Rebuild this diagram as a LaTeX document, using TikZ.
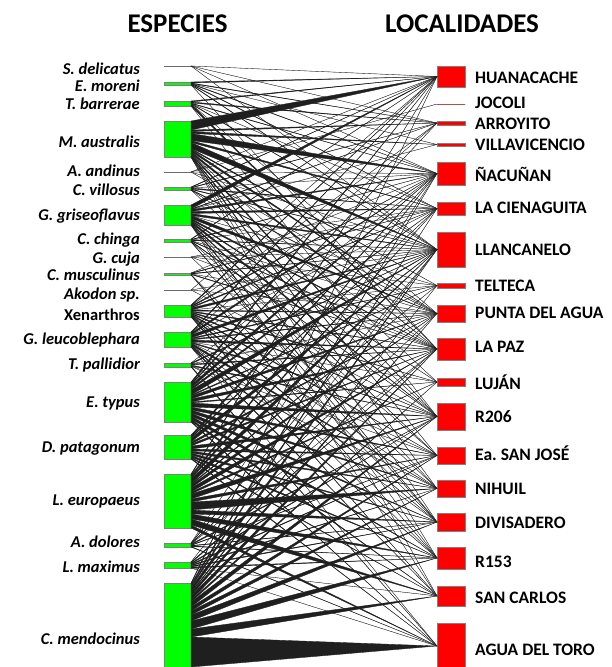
\documentclass[tikz,border=0pt]{standalone}
\usepackage{fontspec}
\setmainfont{Carlito}
\usetikzlibrary{positioning,calc}

\tikzset{
  spbox/.style={draw=gray,fill=green,minimum width=27pt,inner sep=0pt,outer sep=0pt,anchor=north},
  locbox/.style={draw=gray,fill=red,minimum width=28pt,inner sep=0pt,outer sep=0pt,anchor=north},
  nilbox/.style={draw=black!85,line width=1pt},
  splabel/.style={font=\bfseries\itshape\fontsize{16.5}{18}\selectfont,inner sep=0pt,text height=10.4pt,text depth=0pt,anchor=east},
  loclabel/.style={font=\bfseries\fontsize{17.5}{19}\selectfont,inner sep=0pt,text height=11pt,text depth=0pt,anchor=west},
  headline/.style={font=\bfseries\fontsize{27}{30}\selectfont,inner sep=0pt,text height=17pt,text depth=0pt},
  weblink/.style={fill=black!88,draw=black!88,line width=0.35pt,line join=round}
}

% links of one species: #1 species node, #2 list of locality/width
\newcommand{\weblinks}[2]{%
  \foreach \l/\w [evaluate=\w as \b using \a+\w, remember=\b as \a (initially 0)] in {#2}
    \filldraw[weblink] ($(#1.north east)+(0,\a)$) -- ($(#1.north east)+(0,\b)$) -- (\l.west) -- cycle;
}

\begin{document}
\begin{tikzpicture}[x=1pt,y=-1pt]
\useasboundingbox (0,0) rectangle (611,667);

\node[headline,name=esp] at (177.5,24) {ESPECIES};
\node[headline,name=loc] at (462,24) {LOCALIDADES};

% species
\node[spbox,nilbox,minimum height=0pt,name=sde] at (177.5,66) {};
\node[spbox,minimum height=3pt,name=emo] at (177.5,82) {};
\node[spbox,minimum height=5pt,name=tba] at (177.5,101) {};
\node[spbox,minimum height=36pt,name=mau] at (177.5,121) {};
\node[spbox,nilbox,minimum height=0pt,name=aan] at (177.5,172) {};
\node[spbox,minimum height=3pt,name=cvi] at (177.5,187) {};
\node[spbox,minimum height=20pt,name=ggr] at (177.5,205) {};
\node[spbox,minimum height=3pt,name=cch] at (177.5,239) {};
\node[spbox,nilbox,minimum height=0pt,name=gcu] at (177.5,257) {};
\node[spbox,minimum height=2pt,name=cmu] at (177.5,273) {};
\node[spbox,nilbox,minimum height=0pt,name=ako] at (177.5,290) {};
\node[spbox,minimum height=12pt,name=xen] at (177.5,305) {};
\node[spbox,minimum height=15pt,name=gle] at (177.5,332) {};
\node[spbox,minimum height=4pt,name=tpa] at (177.5,363) {};
\node[spbox,minimum height=40pt,name=ety] at (177.5,382) {};
\node[spbox,minimum height=24pt,name=dpa] at (177.5,435) {};
\node[spbox,minimum height=54pt,name=leu] at (177.5,474) {};
\node[spbox,minimum height=4pt,name=ado] at (177.5,543) {};
\node[spbox,minimum height=6pt,name=lma] at (177.5,562) {};
\node[spbox,minimum height=84pt,name=cme] at (177.5,583) {};

\node[splabel,name=sdeL] at (140,69) {S. delicatus};
\node[splabel,name=emoL] at (140,86.5) {E. moreni};
\node[splabel,name=tbaL] at (140,104) {T. barrerae};
\node[splabel,name=mauL] at (140,142) {M. australis};
\node[splabel,name=aanL] at (140,171.5) {A. andinus};
\node[splabel,name=cviL] at (140,190) {C. villosus};
\node[splabel,name=ggrL] at (140,215.5) {G. griseoflavus};
\node[splabel,name=cchL] at (140,239) {C. chinga};
\node[splabel,name=gcuL] at (140,258) {G. cuja};
\node[splabel,name=cmuL] at (140,275.5) {C. musculinus};
\node[splabel,name=akoL] at (140,294) {Akodon sp.};
\node[splabel,font=\bfseries\fontsize{16.5}{18}\selectfont,name=xenL] at (140,315) {Xenarthros};
\node[splabel,name=gleL] at (140,339.5) {G. leucoblephara};
\node[splabel,name=tpaL] at (140,364.5) {T. pallidior};
\node[splabel,name=etyL] at (140,402.5) {E. typus};
\node[splabel,name=dpaL] at (140,447.5) {D. patagonum};
\node[splabel,name=leuL] at (140,500.5) {L. europaeus};
\node[splabel,name=adoL] at (140,542) {A. dolores};
\node[splabel,name=lmaL] at (140,567.5) {L. maximus};
\node[splabel,name=cmeL] at (140,639.5) {C. mendocinus};

% localities
\node[locbox,minimum height=21pt,name=hua] at (451,66) {};
\node[locbox,nilbox,draw=red!55!black,minimum height=0pt,name=joc] at (451,104) {};
\node[locbox,minimum height=4pt,name=arr] at (451,121) {};
\node[locbox,minimum height=3pt,name=vil] at (451,143) {};
\node[locbox,minimum height=23pt,name=nac] at (451,162) {};
\node[locbox,minimum height=13pt,name=lac] at (451,202) {};
\node[locbox,minimum height=35pt,name=lla] at (451,232) {};
\node[locbox,minimum height=5pt,name=tel] at (451,283) {};
\node[locbox,minimum height=17pt,name=pun] at (451,305) {};
\node[locbox,minimum height=22pt,name=lap] at (451,338) {};
\node[locbox,minimum height=8pt,name=luj] at (451,378) {};
\node[locbox,minimum height=27pt,name=rdos] at (451,403) {};
\node[locbox,minimum height=17pt,name=esj] at (451,447) {};
\node[locbox,minimum height=17pt,name=nih] at (451,480) {};
\node[locbox,minimum height=18pt,name=div] at (451,513) {};
\node[locbox,minimum height=22pt,name=rcin] at (451,547) {};
\node[locbox,minimum height=20pt,name=sca] at (451,586) {};
\node[locbox,minimum height=46pt,name=adt] at (451,623) {};

\node[loclabel,name=huaL] at (475,78) {HUANACACHE};
\node[loclabel,name=jocL] at (475,103) {JOCOLI};
\node[loclabel,name=arrL] at (475,123.5) {ARROYITO};
\node[loclabel,name=vilL] at (475,144.5) {VILLAVICENCIO};
\node[loclabel,name=nacL] at (475,175.5) {ÑACUÑAN};
\node[loclabel,name=lacL] at (475,207.5) {LA CIENAGUITA};
\node[loclabel,name=llaL] at (475,250) {LLANCANELO};
\node[loclabel,name=telL] at (475,285.5) {TELTECA};
\node[loclabel,name=punL] at (475,312.5) {PUNTA DEL AGUA};
\node[loclabel,name=lapL] at (475,347) {LA PAZ};
\node[loclabel,name=lujL] at (475,383.5) {LUJÁN};
\node[loclabel,name=rdosL] at (475,417) {R206};
\node[loclabel,name=esjL] at (475,455) {Ea.\ SAN JOSÉ};
\node[loclabel,name=nihL] at (475,489) {NIHUIL};
\node[loclabel,name=divL] at (475,522.5) {DIVISADERO};
\node[loclabel,name=rcinL] at (475,562) {R153};
\node[loclabel,name=scaL] at (475,598) {SAN CARLOS};
\node[loclabel,name=adtL] at (475,650) {AGUA DEL TORO};

% interactions
\weblinks{sde}{hua/0, arr/0, nac/0, lla/0}
\weblinks{emo}{hua/1, arr/0.5, vil/0, nac/0.5, lac/0.5, lla/0.5, lap/0}
\weblinks{tba}{hua/1, arr/1, nac/0.5, lac/0, lla/0.5, pun/0, lap/2, rdos/0}
\weblinks{mau}{hua/9, arr/1.5, vil/2, nac/7, lac/2, lla/6, tel/1, pun/2, lap/2, luj/0, rdos/1.5, esj/1, nih/1, div/0, rcin/0, sca/0}
\weblinks{aan}{hua/0, joc/0, nac/0, lla/0, pun/0}
\weblinks{cvi}{hua/0.5, arr/0.5, nac/0, lac/1, lla/0.5, pun/0.5, lap/0, rdos/0}
\weblinks{ggr}{hua/4, arr/0.5, vil/0, nac/2, lac/2, lla/2, tel/0, pun/3, lap/1.5, luj/1, rdos/2, esj/1, nih/0, div/1, rcin/0, sca/0}
\weblinks{cch}{hua/0.5, nac/0.5, lac/0, lla/0.5, pun/0, lap/0.5, rdos/0.5, esj/0, div/0.5}
\weblinks{gcu}{lac/0, lla/0, tel/0, lap/0, nih/0}
\weblinks{cmu}{nac/0, lac/0.5, lla/0.5, pun/0, lap/0.5, div/0, rcin/0.5}
\weblinks{ako}{hua/0, lla/0, pun/0, rdos/0}
\weblinks{xen}{hua/1, arr/0, nac/1, lac/1, lla/2, tel/0, pun/1, lap/1, luj/1, rdos/1, esj/1, nih/0, div/1, rcin/0, sca/1}
\weblinks{gle}{hua/1, arr/0, nac/2, lac/0, lla/3, tel/1, pun/1, lap/2, luj/0, rdos/1, esj/0, nih/2, div/0, rcin/1, sca/1, adt/0}
\weblinks{tpa}{nac/0, lla/1, pun/0, lap/1, rdos/1, esj/0, nih/0, adt/1}
\weblinks{ety}{hua/2, arr/1, nac/3, lac/2, lla/5, tel/1, pun/3, lap/3, luj/1, rdos/4, esj/3, nih/3, div/3, rcin/3, sca/2, adt/1}
\weblinks{dpa}{nac/2, lac/1, lla/4, pun/2, lap/2, rdos/3, esj/2, nih/2, div/2, rcin/2, sca/1, adt/1}
\weblinks{leu}{hua/1, nac/2, lac/2, lla/5, tel/1, pun/3, lap/4, luj/2, rdos/5, esj/3, nih/8, div/4, rcin/5, sca/6, adt/3}
\weblinks{ado}{nac/0, lla/0.5, pun/0.5, lap/0, rdos/1, esj/0.5, div/0.5, rcin/0.5, adt/0.5}
\weblinks{lma}{lla/0, lap/1, rdos/1, esj/1, nih/1, div/1, rcin/1, sca/0, adt/0}
\weblinks{cme}{hua/1, nac/2, lac/2, lla/4, tel/1, pun/3, lap/4, luj/2, rdos/5, esj/4, nih/4, div/6, rcin/8, sca/8, adt/30}
\end{tikzpicture}
\end{document}
